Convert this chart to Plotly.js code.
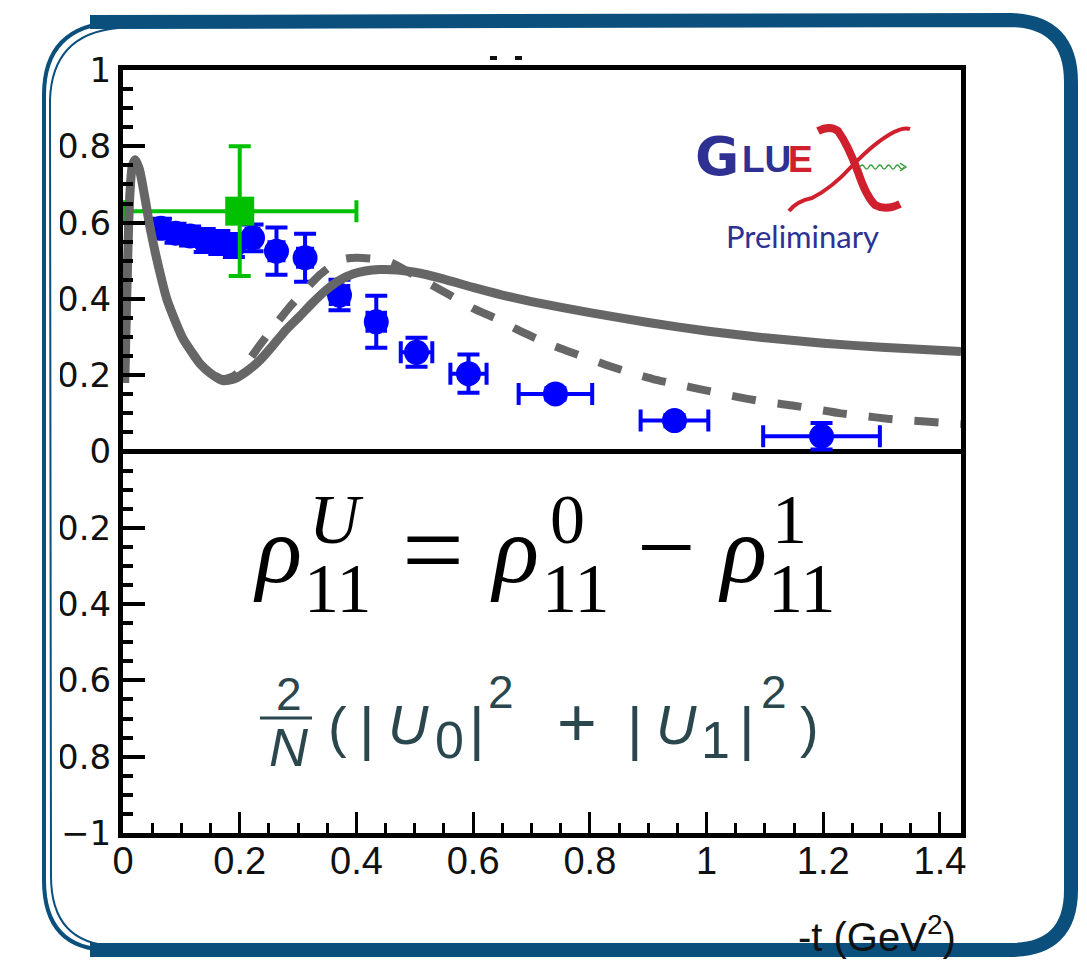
<!DOCTYPE html>
<html>
<head>
<meta charset="utf-8">
<script src="https://cdn.plot.ly/plotly-3.0.1.min.js"></script>
<style>
  html, body { margin: 0; padding: 0; background: #ffffff; }
  #chart { width: 1087px; height: 962px; }
</style>
</head>
<body>
<div id="chart"></div>
<script>
// rho^U_11 versus -t, GlueX preliminary
const tBlue      = [0.065, 0.090, 0.115, 0.140, 0.165, 0.190, 0.222, 0.263, 0.312, 0.371, 0.434, 0.503, 0.592, 0.741, 0.945, 1.197];
const rhoBlue    = [0.585, 0.572, 0.565, 0.553, 0.548, 0.540, 0.560, 0.525, 0.508, 0.410, 0.340, 0.260, 0.204, 0.151, 0.081, 0.040];
const rhoBlueErr = [0.025, 0.025, 0.025, 0.030, 0.030, 0.030, 0.035, 0.062, 0.063, 0.040, 0.068, 0.038, 0.050, 0.015, 0.015, 0.035];
const tBlueErr   = [0.010, 0.010, 0.010, 0.010, 0.010, 0.010, 0.010, 0.012, 0.012, 0.015, 0.015, 0.027, 0.031, 0.063, 0.058, 0.100];

const tGreen      = [0.20];
const rhoGreen    = [0.63];
const rhoGreenErr = [0.17];
const tGreenErr   = [0.20];

// model curves
const tSolid   = [0.003, 0.006, 0.009, 0.012, 0.016, 0.021, 0.028, 0.037, 0.046, 0.060, 0.075, 0.090, 0.103, 0.118, 0.132, 0.150, 0.171, 0.190, 0.211, 0.235, 0.257, 0.280, 0.303, 0.325, 0.348, 0.370, 0.394, 0.415, 0.440, 0.470, 0.500, 0.550, 0.600, 0.650, 0.700, 0.800, 0.900, 1.000, 1.100, 1.200, 1.300, 1.436];
const rhoSolid = [0.180, 0.380, 0.560, 0.680, 0.750, 0.765, 0.740, 0.670, 0.590, 0.490, 0.400, 0.340, 0.295, 0.260, 0.230, 0.205, 0.186, 0.190, 0.209, 0.240, 0.278, 0.320, 0.355, 0.390, 0.423, 0.448, 0.465, 0.473, 0.477, 0.476, 0.470, 0.452, 0.430, 0.410, 0.393, 0.364, 0.338, 0.316, 0.298, 0.284, 0.273, 0.262];

const tDash   = [0.003, 0.006, 0.009, 0.012, 0.016, 0.021, 0.028, 0.037, 0.046, 0.060, 0.075, 0.090, 0.103, 0.118, 0.132, 0.150, 0.170, 0.190, 0.210, 0.235, 0.260, 0.285, 0.310, 0.335, 0.360, 0.380, 0.400, 0.430, 0.460, 0.490, 0.525, 0.560, 0.600, 0.640, 0.675, 0.710, 0.750, 0.790, 0.828, 0.868, 0.908, 0.950, 0.990, 1.030, 1.070, 1.110, 1.150, 1.190, 1.230, 1.270, 1.310, 1.350, 1.400, 1.436];
const rhoDash = [0.180, 0.380, 0.560, 0.680, 0.750, 0.765, 0.740, 0.670, 0.590, 0.490, 0.400, 0.340, 0.295, 0.260, 0.232, 0.207, 0.190, 0.198, 0.228, 0.280, 0.330, 0.378, 0.420, 0.460, 0.490, 0.505, 0.508, 0.505, 0.495, 0.470, 0.440, 0.410, 0.375, 0.348, 0.320, 0.295, 0.270, 0.248, 0.227, 0.207, 0.190, 0.176, 0.163, 0.150, 0.138, 0.128, 0.120, 0.110, 0.100, 0.093, 0.086, 0.081, 0.076, 0.072];

const xTickVals = [0, 0.2, 0.4, 0.6, 0.8, 1, 1.2, 1.4];
const xTickText = ['0', '0.2', '0.4', '0.6', '0.8', '1', '1.2', '1.4'];
const yTickVals = [-1, -0.8, -0.6, -0.4, -0.2, 0, 0.2, 0.4, 0.6, 0.8, 1];
const yTickText = ['\u22121', '\u22120.8', '\u22120.6', '\u22120.4', '\u22120.2', '0', '0.2', '0.4', '0.6', '0.8', '1'];

// plot-area pixel box, used to place the overlay text and frame
const L = 123, R = 961, T = 70, B = 833;
const W = 1087, H = 962;
const px = x => (x - L) / (R - L);
const py = y => (B - y) / (B - T);
const pathPx = s => s.replace(/(-?[\d.]+)\s*,\s*(-?[\d.]+)/g, (m, a, b) => px(+a).toFixed(5) + ',' + py(+b).toFixed(5));

const GRAY = '#666666';
const BLUE = '#0000ff';
const GREEN = '#00c000';
const FRAME = '#0b4f7d';
const SLATE = '#2a474d';
const LOGO_BLUE = '#2e3192';
const LOGO_RED = '#d0202e';

const traces = [
  {
    x: tBlue, y: rhoBlue, type: 'scatter', mode: 'markers',
    marker: { color: BLUE, size: 25, symbol: 'circle' },
    error_y: { type: 'data', array: rhoBlueErr, color: BLUE, thickness: 4, width: 11 },
    error_x: { type: 'data', array: tBlueErr, color: BLUE, thickness: 4, width: 11 },
    hoverinfo: 'skip'
  },
  {
    x: tGreen, y: rhoGreen, type: 'scatter', mode: 'markers',
    marker: { color: GREEN, size: 29, symbol: 'square' },
    error_y: { type: 'data', array: rhoGreenErr, color: GREEN, thickness: 4, width: 11 },
    error_x: { type: 'data', array: tGreenErr, color: GREEN, thickness: 4, width: 11 },
    hoverinfo: 'skip'
  },
  {
    x: tDash, y: rhoDash, type: 'scatter', mode: 'lines',
    line: { color: GRAY, width: 8, dash: '24px,22px', shape: 'spline', smoothing: 0.6 },
    hoverinfo: 'skip'
  },
  {
    x: tSolid, y: rhoSolid, type: 'scatter', mode: 'lines',
    line: { color: GRAY, width: 9, shape: 'spline', smoothing: 0.6 },
    hoverinfo: 'skip'
  }
];

function glyph(text, x, y, size, family, color, extra) {
  const f = Object.assign({ family: family, size: size, color: color }, (extra && extra.font) || {});
  const a = Object.assign({
    text: text, xref: 'paper', yref: 'paper', x: px(x), y: py(y),
    xanchor: 'center', yanchor: 'middle', showarrow: false
  }, extra || {});
  a.font = f;
  return a;
}

const SERIF = 'Liberation Serif';
const SANS = 'Liberation Sans';
const DJV = 'DejaVu Sans';
const BOLD = { font: { weight: 'bold' } };
const annotations = [
  // rho^U_11 = rho^0_11 - rho^1_11
  glyph('<i>\u03c1</i>', 277, 549, 96, SERIF, '#000'),
  glyph('<i>U</i>', 336, 519, 70, SERIF, '#000'),
  glyph('11', 337, 588, 70, SERIF, '#000'),
  glyph('=', 433, 550, 110, SERIF, '#000'),
  glyph('<i>\u03c1</i>', 514, 549, 96, SERIF, '#000'),
  glyph('0', 567, 519, 70, SERIF, '#000'),
  glyph('11', 575, 588, 70, SERIF, '#000'),
  glyph('\u2212', 666, 546, 104, SERIF, '#000'),
  glyph('<i>\u03c1</i>', 742, 549, 96, SERIF, '#000'),
  glyph('1', 789, 519, 70, SERIF, '#000'),
  glyph('11', 801, 588, 70, SERIF, '#000'),

  // 2/N (|U0|^2 + |U1|^2)
  glyph('2', 289, 694, 46, SANS, SLATE),
  glyph('<i>N</i>', 289, 747, 54, SANS, SLATE),
  glyph('(', 337, 726, 56, SANS, SLATE),
  glyph('|', 367, 728, 60, SANS, SLATE),
  glyph('<i>U</i>', 408, 724, 56, SANS, SLATE),
  glyph('0', 449, 740, 52, SANS, SLATE),
  glyph('|', 477, 728, 60, SANS, SLATE),
  glyph('2', 501, 692, 46, SANS, SLATE),
  glyph('+', 577, 722, 68, SANS, SLATE),
  glyph('|', 635, 728, 60, SANS, SLATE),
  glyph('<i>U</i>', 676, 724, 56, SANS, SLATE),
  glyph('1', 715, 740, 52, SANS, SLATE),
  glyph('|', 747, 728, 60, SANS, SLATE),
  glyph('2', 774, 692, 46, SANS, SLATE),
  glyph(')', 809, 726, 56, SANS, SLATE),

  // logo
  glyph('G', 717, 157, 54, DJV, LOGO_BLUE, BOLD),
  glyph('LU', 766, 159, 37, SANS, LOGO_BLUE, BOLD),
  glyph('E', 800, 159, 37, SANS, LOGO_RED, BOLD),
  glyph('Preliminary', 802, 236, 31, 'Lato', LOGO_BLUE),

  // x-axis title
  glyph('-t (GeV<sup>2</sup>)', 958, 934, 40, SANS, '#111', { xanchor: 'right' })
];

// green wave next to the logo
let wave = 'M 860,167';
for (let i = 0; i < 10; i++) {
  const x0 = 860 + i * 4.4;
  const dy = (i % 2 === 0) ? -4 : 4;
  wave += ' Q ' + (x0 + 2.2) + ',' + (167 + dy) + ' ' + (x0 + 4.4) + ',167';
}

const shapes = [
  // white strip at the left edge of the card
  { type: 'rect', xref: 'paper', yref: 'paper', x0: px(0), x1: px(60), y0: py(H), y1: py(0),
    fillcolor: '#ffffff', line: { width: 0 }, layer: 'above' },
  // small marks above the frame
  { type: 'rect', xref: 'paper', yref: 'paper', x0: px(490), x1: px(497), y0: py(60), y1: py(56),
    fillcolor: '#111', line: { width: 0 }, layer: 'above' },
  { type: 'rect', xref: 'paper', yref: 'paper', x0: px(515), x1: px(522), y0: py(60), y1: py(56),
    fillcolor: '#111', line: { width: 0 }, layer: 'above' },
  // logo X
  { type: 'path', xref: 'paper', yref: 'paper', layer: 'above',
    path: pathPx('M 818,131 Q 830,125 838,131 Q 848,145 858,172 Q 866,196 875,205 Q 886,211 900,204'),
    line: { color: LOGO_RED, width: 8 } },
  { type: 'path', xref: 'paper', yref: 'paper', layer: 'above',
    path: pathPx('M 789,211 Q 797,201 812,198 Q 832,188 852,166 Q 875,142 894,132 Q 904,127 910,129'),
    line: { color: LOGO_RED, width: 4 } },
  { type: 'path', xref: 'paper', yref: 'paper', layer: 'above',
    path: pathPx(wave), line: { color: '#3aa040', width: 1.5 } },
  { type: 'path', xref: 'paper', yref: 'paper', layer: 'above',
    path: pathPx('M 900,163 L 906,167 L 900,171'), line: { color: '#3aa040', width: 1.5 } },
  // fraction bar
  { type: 'line', xref: 'paper', yref: 'paper', layer: 'above',
    x0: px(260), x1: px(312), y0: py(718), y1: py(718), line: { color: SLATE, width: 3 } },
  // card frame
  { type: 'path', xref: 'paper', yref: 'paper', layer: 'above',
    path: pathPx('M 110,950 Q 44,950 44,880 L 44,95 Q 44,26 115,22'),
    line: { color: FRAME, width: 4 } },
  { type: 'path', xref: 'paper', yref: 'paper', layer: 'above',
    path: pathPx('M 115,946 Q 51,944 51,876 L 50,100 Q 52,34 118,28'),
    line: { color: FRAME, width: 2 } },
  { type: 'path', xref: 'paper', yref: 'paper', layer: 'above',
    path: pathPx('M 90,22 L 1012,20 Q 1071,22 1071,82 L 1071,890 Q 1071,950 1010,950 L 90,950'),
    line: { color: FRAME, width: 14 } }
];

const axisCommon = {
  showline: true, linewidth: 5, linecolor: '#000', mirror: true,
  ticks: 'inside', tickcolor: '#000', showgrid: false,
  tickmode: 'array'
};

const layout = {
  width: W, height: H,
  margin: { l: L, r: W - R, t: T, b: H - B, pad: 0 },
  paper_bgcolor: '#ffffff', plot_bgcolor: '#ffffff',
  showlegend: false,
  xaxis: Object.assign({}, axisCommon, {
    range: [0, 1.436], zeroline: false,
    tickvals: xTickVals, ticktext: xTickText,
    ticklen: 21, tickwidth: 3, ticklabelstandoff: -10,
    tickfont: { family: SANS, size: 38, color: '#111' },
    minor: { tickmode: 'linear', tick0: 0, dtick: 0.05, ticks: 'inside', ticklen: 10, tickwidth: 3, tickcolor: '#000', showgrid: false }
  }),
  yaxis: Object.assign({}, axisCommon, {
    range: [-1, 1], zeroline: true, zerolinecolor: '#000', zerolinewidth: 5,
    tickvals: yTickVals, ticktext: yTickText,
    ticklen: 22, tickwidth: 4, ticklabelstandoff: 0,
    tickfont: { family: DJV, size: 34, color: '#111' },
    minor: { tickmode: 'linear', tick0: 0, dtick: 0.05, ticks: 'inside', ticklen: 10, tickwidth: 4, tickcolor: '#000', showgrid: false }
  }),
  annotations: annotations,
  shapes: shapes
};

Plotly.newPlot('chart', traces, layout, { staticPlot: true, displayModeBar: false });
</script>
</body>
</html>
